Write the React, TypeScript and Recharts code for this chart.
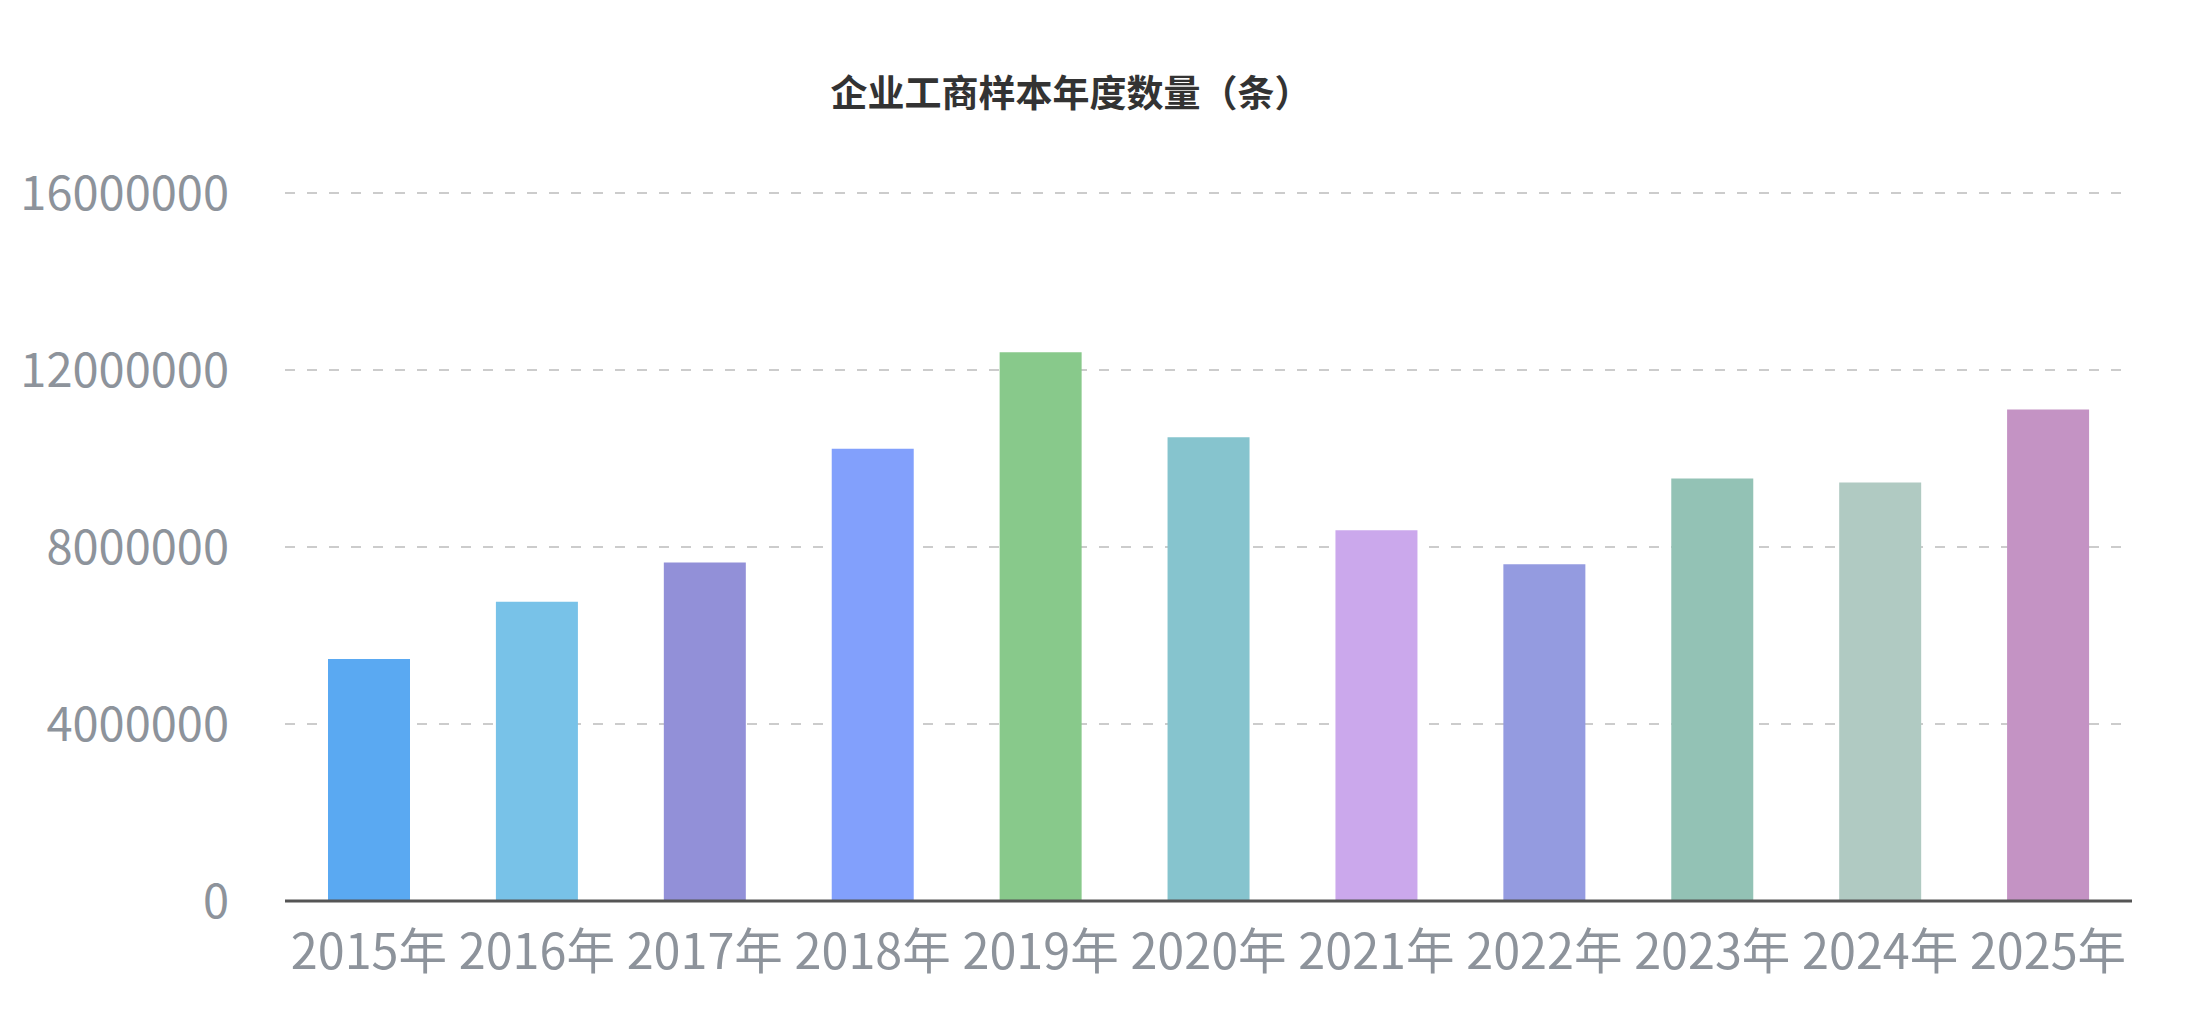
import { BarChart, Bar, XAxis, YAxis, CartesianGrid, Cell } from 'recharts';

const years = ['2015年', '2016年', '2017年', '2018年', '2019年', '2020年', '2021年', '2022年', '2023年', '2024年', '2025年'];
const counts = [5470000, 6760000, 7650000, 10220000, 12400000, 10480000, 8380000, 7610000, 9550000, 9460000, 11110000];
const barColors = ['#5aa9f2', '#78c2e8', '#9290d8', '#82a0fc', '#88c98b', '#86c4ce', '#cba8ec', '#949be0', '#93c2b5', '#b0cac2', '#c493c4'];
const yTicks = [0, 4000000, 8000000, 12000000, 16000000];

const data = years.map((year, i) => ({ year, count: counts[i] }));

const font = '"Noto Sans CJK SC", sans-serif';

export default function App() {
    return (
        <div style={{ position: 'absolute', left: 0, top: 0, width: 2210, height: 1029, background: '#fff' }}>
            <div
                style={{
                    position: 'absolute',
                    left: 0,
                    top: 71,
                    width: 2142,
                    textAlign: 'center',
                    fontFamily: font,
                    fontWeight: 700,
                    fontSize: 37,
                    lineHeight: '40px',
                    color: '#333',
                }}
            >
                企业工商样本年度数量（条）
            </div>
            <BarChart
                width={2210}
                height={1029}
                data={data}
                margin={{ top: 193, right: 78, bottom: 0, left: 0 }}
                barSize={82}
            >
                <CartesianGrid vertical={false} stroke="#cccccc" strokeWidth={2} strokeDasharray="10 12" />
                <XAxis
                    dataKey="year"
                    height={128}
                    tickLine={false}
                    tickSize={0}
                    tickMargin={34}
                    axisLine={{ stroke: '#555', strokeWidth: 3 }}
                    tick={{ fill: '#8d939b', fontSize: 48.5, fontFamily: font }}
                    interval={0}
                />
                <YAxis
                    width={285}
                    domain={[0, 16000000]}
                    ticks={yTicks}
                    axisLine={false}
                    tickLine={false}
                    tickSize={0}
                    tickMargin={56}
                    tick={{ fill: '#8d939b', fontSize: 47, fontFamily: font }}
                />
                <Bar dataKey="count" isAnimationActive={false}>
                    {data.map((entry, index) => (
                        <Cell key={entry.year} fill={barColors[index]} />
                    ))}
                </Bar>
            </BarChart>
        </div>
    );
}
